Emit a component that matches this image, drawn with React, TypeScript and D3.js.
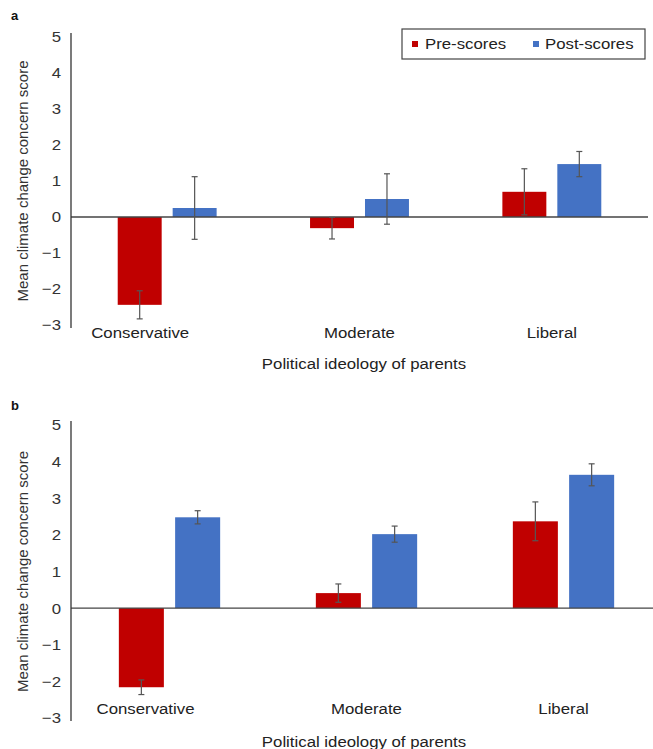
import React from "react";
import * as d3 from "d3";

const categories = ["Conservative", "Moderate", "Liberal"];
const series = ["Pre-scores", "Post-scores"];
const yTicks = [5, 4, 3, 2, 1, 0, -1, -2, -3];

// Panel a
const preA = [-2.44, -0.31, 0.7];
const postA = [0.25, 0.5, 1.47];
const preErrA = [0.39, 0.3, 0.64];
const postErrA = [0.87, 0.7, 0.35];

// Panel b
const preB = [-2.16, 0.41, 2.37];
const postB = [2.48, 2.02, 3.64];
const preErrB = [0.2, 0.25, 0.53];
const postErrB = [0.18, 0.22, 0.3];

const colors = ["#C00000", "#4472C4"];
const FONT = "'Liberation Sans', Arial, Helvetica, sans-serif";
const SX = 1.12;

function HText(props: {
  x: number;
  y: number;
  anchor?: string;
  size: number;
  children: React.ReactNode;
  fill?: string;
  dy?: string;
}) {
  return (
    <text
      transform={`translate(${props.x},${props.y}) scale(${SX},1)`}
      textAnchor={props.anchor || "start"}
      fontFamily={FONT}
      fontSize={props.size}
      fill={props.fill || "#222"}
      dy={props.dy}
    >
      {props.children}
    </text>
  );
}

type PanelProps = {
  letter: string;
  pre: number[];
  post: number[];
  preErr: number[];
  postErr: number[];
  top: number;
  bottom: number;
  left: number;
  right: number;
  catY: number;
  titleY: number;
  letterY: number;
  firstLabelShift: number;
};

function Panel(p: PanelProps) {
  const y = d3.scaleLinear().domain([-3, 5]).range([p.bottom, p.top]);
  const x0 = d3.scaleBand<string>().domain(categories).range([p.left, p.right]).padding(0);
  const x1 = d3
    .scaleBand<string>()
    .domain(series)
    .range([0, x0.bandwidth()])
    .paddingInner(0.2)
    .paddingOuter(0.85);
  const vals = [p.pre, p.post];
  const errs = [p.preErr, p.postErr];
  const cap = 3;
  return (
    <g>
      <text x={11} y={p.letterY} fontFamily={FONT} fontWeight="bold" fontSize={13} fill="#111">
        {p.letter}
      </text>
      {yTicks.map((t) => (
        <HText key={t} x={61} y={y(t)} dy="0.36em" anchor="end" size={15} fill="#333">
          {t < 0 ? "\u2212" + Math.abs(t) : String(t)}
        </HText>
      ))}
      <text
        transform={`translate(28,${(p.top + p.bottom) / 2}) rotate(-90)`}
        textAnchor="middle"
        fontFamily={FONT}
        fontSize={15}
        fill="#333"
      >
        Mean climate change concern score
      </text>
      {categories.map((c, i) =>
        series.map((s, j) => {
          const v = vals[j][i];
          const bx = (x0(c) as number) + (x1(s) as number);
          return (
            <rect
              key={c + s}
              x={bx}
              y={Math.min(y(v), y(0))}
              width={x1.bandwidth()}
              height={Math.abs(y(v) - y(0))}
              fill={colors[j]}
            />
          );
        })
      )}
      <line x1={p.left} x2={p.right} y1={y(0)} y2={y(0)} stroke="#444" strokeWidth={1.3} />
      <line x1={p.left} x2={p.left} y1={p.top - 4} y2={p.bottom + 3} stroke="#333" strokeWidth={1.3} />
      {categories.map((c, i) =>
        series.map((s, j) => {
          const v = vals[j][i];
          const e = errs[j][i];
          const cx = (x0(c) as number) + (x1(s) as number) + x1.bandwidth() / 2;
          return (
            <g key={"e" + c + s} stroke="#555" strokeWidth={1.2}>
              <line x1={cx} x2={cx} y1={y(v + e)} y2={y(v - e)} />
              <line x1={cx - cap} x2={cx + cap} y1={y(v + e)} y2={y(v + e)} />
              <line x1={cx - cap} x2={cx + cap} y1={y(v - e)} y2={y(v - e)} />
            </g>
          );
        })
      )}
      {categories.map((c, i) => (
        <HText
          key={"l" + c}
          x={(x0(c) as number) + x0.bandwidth() / 2 + (i === 0 ? p.firstLabelShift : 0)}
          y={p.catY}
          anchor="middle"
          size={15}
        >
          {c}
        </HText>
      ))}
      <HText x={364} y={p.titleY} anchor="middle" size={15}>
        Political ideology of parents
      </HText>
    </g>
  );
}

export default function App() {
  return (
    <svg
      width={653}
      height={749}
      style={{ position: "absolute", left: 0, top: 0, background: "#fff" }}
    >
      <rect width={653} height={749} fill="#fff" />
      <Panel
        letter="a"
        pre={preA}
        post={postA}
        preErr={preErrA}
        postErr={postErrA}
        top={37}
        bottom={325}
        left={71}
        right={648}
        catY={338}
        titleY={369}
        letterY={20}
        firstLabelShift={-27}
      />
      <Panel
        letter="b"
        pre={preB}
        post={postB}
        preErr={preErrB}
        postErr={postErrB}
        top={425}
        bottom={718}
        left={71}
        right={662}
        catY={714}
        titleY={747}
        letterY={410}
        firstLabelShift={-24}
      />
      <g>
        <rect x={402} y={29} width={243} height={30} fill="#fff" stroke="#444" strokeWidth={1.2} />
        {series.map((s, j) => (
          <g key={s}>
            <rect x={j === 0 ? 412 : 533} y={41} width={6} height={6} fill={colors[j]} />
            <HText x={j === 0 ? 425 : 545} y={44} dy="0.36em" size={15}>
              {s}
            </HText>
          </g>
        ))}
      </g>
    </svg>
  );
}
